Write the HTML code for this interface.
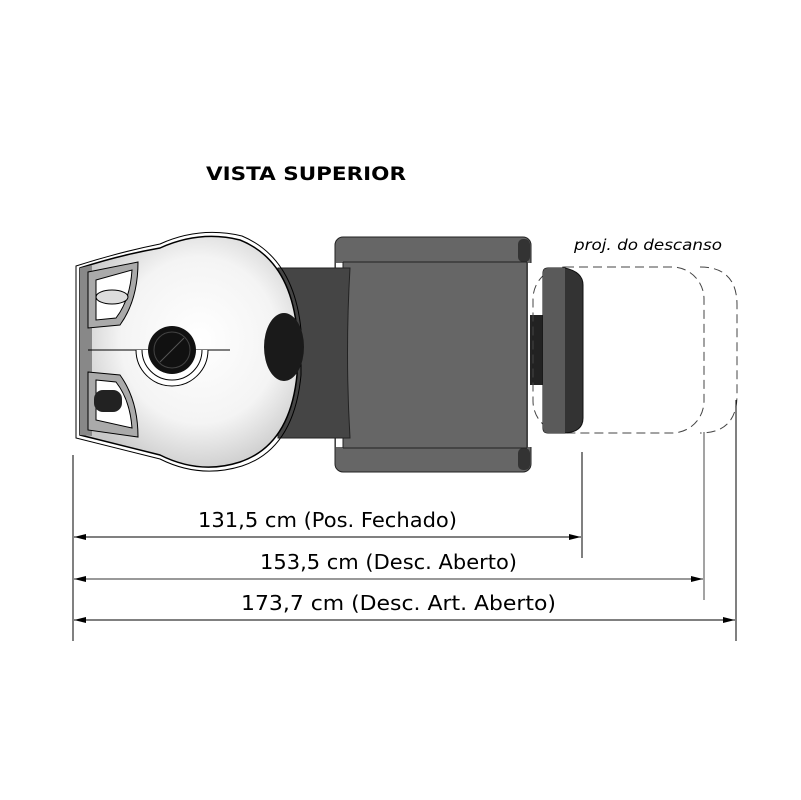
<!DOCTYPE html>
<html><head><meta charset="utf-8"><style>html,body{margin:0;padding:0;background:#fff}svg{display:block}</style></head>
<body>
<svg width="801" height="800" viewBox="0 0 801 800" xmlns="http://www.w3.org/2000/svg" font-family="'DejaVu Sans', 'Liberation Sans', sans-serif">
<defs>
<radialGradient id="ball" cx="0.55" cy="0.45" r="0.6">
<stop offset="0" stop-color="#ffffff"/><stop offset="0.6" stop-color="#f4f4f4"/><stop offset="1" stop-color="#c8c8c8"/>
</radialGradient>
<marker id="ar" markerWidth="12" markerHeight="6" refX="12" refY="3" orient="auto" markerUnits="userSpaceOnUse"><path d="M0,0 L12,3 L0,6 Z" fill="#000"/></marker>
<marker id="al" markerWidth="12" markerHeight="6" refX="0" refY="3" orient="auto" markerUnits="userSpaceOnUse"><path d="M12,0 L0,3 L12,6 Z" fill="#000"/></marker>
</defs>
<text x="206" y="180" font-size="19" font-weight="bold" textLength="200" lengthAdjust="spacingAndGlyphs">VISTA SUPERIOR</text>

<!-- seat -->
<rect x="335" y="237" width="196" height="235" rx="8" fill="#666" stroke="#222"/>
<rect x="518" y="239" width="12" height="23" rx="5" fill="#333"/>
<rect x="518" y="448" width="12" height="22" rx="5" fill="#333"/>
<line x1="343" y1="262" x2="527" y2="262" stroke="#222"/>
<line x1="343" y1="448" x2="527" y2="448" stroke="#222"/>
<rect x="336" y="263" width="7" height="184" fill="#fff"/>
<rect x="528" y="263" width="4" height="184" fill="#fff"/>
<path d="M343,262 L343,448 M527,262 L527,448" stroke="#222"/>
<!-- neck (in front) -->
<path d="M278,268 L350,268 Q345,353 350,438 L278,438 Z" fill="#454545" stroke="#222"/>
<!-- connector -->
<rect x="530" y="315" width="13" height="70" fill="#222"/>
<!-- dashed projections -->
<rect x="533" y="267" width="171" height="166" rx="32" fill="none" stroke="#444" stroke-dasharray="9,5"/>
<path d="M700,267 Q737,267 737,305 L737,395 Q737,433 700,433" fill="none" stroke="#444" stroke-dasharray="9,5"/>
<!-- footrest -->
<path d="M548,268 L565,268 Q583,272 583,285 L583,418 Q583,432 565,433 L548,433 Q543,433 543,428 L543,273 Q543,268 548,268Z" fill="#333" stroke="#111"/>
<path d="M548,268 L565,268 L565,433 L548,433 Q543,433 543,428 L543,273 Q543,268 548,268Z" fill="#5a5a5a"/>

<!-- head unit -->
<path d="M80,268 Q120,255 160,248 Q200,230 240,240 Q290,260 297,330 L297,375 Q290,445 240,462 Q200,475 160,455 Q120,445 80,435 Z" fill="url(#ball)" stroke="#000" stroke-width="1.5"/>
<path d="M76,266 Q120,252 160,244 Q200,226 242,236 Q294,258 301,330 L301,375 Q294,449 242,466 Q200,479 160,459 Q120,449 76,438 Z" fill="none" stroke="#000" stroke-width="1"/>
<path d="M80,268 L92,265 L92,436 L80,435 Z" fill="#888"/>
<!-- lobes -->
<path d="M88,272 L138,262 Q138,300 120,325 L88,328 Z" fill="#aaa" stroke="#000"/>
<path d="M96,280 L132,270 Q130,300 116,318 L96,320 Z" fill="#fff" stroke="#000"/>
<ellipse cx="112" cy="297" rx="16" ry="7" fill="#ddd" stroke="#000"/>
<path d="M88,372 L120,375 Q138,400 138,437 L88,430 Z" fill="#aaa" stroke="#000"/>
<path d="M96,380 L116,382 Q130,400 132,428 L96,420 Z" fill="#fff" stroke="#000"/>
<rect x="94" y="390" width="28" height="22" rx="9" fill="#222"/>
<!-- center -->
<line x1="88" y1="350" x2="230" y2="350" stroke="#000"/>
<path d="M136,350 A36,36 0 0 0 208,350" fill="#fff" stroke="#000"/>
<path d="M142,350 A30,30 0 0 0 202,350" fill="none" stroke="#000"/>
<circle cx="172" cy="350" r="24" fill="#111"/>
<circle cx="172" cy="350" r="18" fill="none" stroke="#444"/>
<line x1="160" y1="362" x2="184" y2="338" stroke="#555"/>
<ellipse cx="284" cy="347" rx="20" ry="34" fill="#1a1a1a"/>

<!-- dimension extension lines -->
<line x1="73" y1="455" x2="73" y2="641" stroke="#000"/>
<line x1="582" y1="452" x2="582" y2="558" stroke="#000"/>
<line x1="704" y1="432" x2="704" y2="600" stroke="#666" stroke-width="1.2"/>
<line x1="736" y1="400" x2="736" y2="641" stroke="#000"/>
<!-- dimension lines -->
<line x1="74" y1="537" x2="581" y2="537" stroke="#000" marker-start="url(#al)" marker-end="url(#ar)"/>
<line x1="74" y1="579" x2="703" y2="579" stroke="#333" marker-start="url(#al)" marker-end="url(#ar)"/>
<line x1="74" y1="620" x2="735" y2="620" stroke="#000" marker-start="url(#al)" marker-end="url(#ar)"/>
<text x="198" y="527" font-size="20" textLength="259" lengthAdjust="spacingAndGlyphs">131,5 cm (Pos. Fechado)</text>
<text x="260" y="569" font-size="20" textLength="257" lengthAdjust="spacingAndGlyphs">153,5 cm (Desc. Aberto)</text>
<text x="241" y="610" font-size="20" textLength="315" lengthAdjust="spacingAndGlyphs">173,7 cm (Desc. Art. Aberto)</text>
<text x="574" y="250" font-size="15" font-style="italic" textLength="148" lengthAdjust="spacingAndGlyphs">proj. do descanso</text>
</svg>
</body></html>
